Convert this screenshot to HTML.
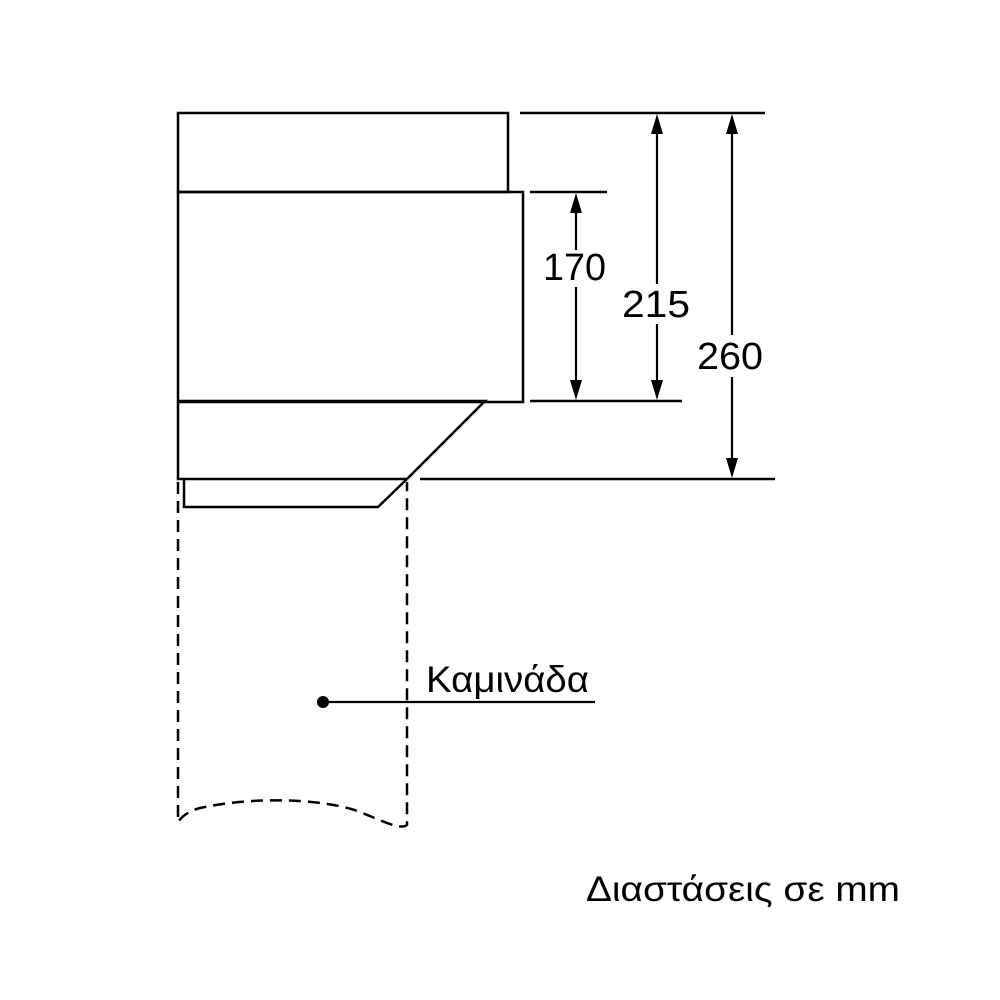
<!DOCTYPE html>
<html><head><meta charset="utf-8"><style>html,body{margin:0;padding:0;background:#fff;width:1000px;height:1000px;overflow:hidden}</style></head>
<body>
<svg width="1000" height="1000" viewBox="0 0 1000 1000" xmlns="http://www.w3.org/2000/svg">
<g fill="none" stroke="#000" stroke-width="2.5">
<rect x="178" y="113" width="330" height="79"/>
<path d="M178 192 H523 V402 H178 Z"/>
<path d="M178 402 V479 H407 M178 401 H485 L407 479"/>
<path d="M184 480 V507 H378 L407 479"/>
<path d="M420 479 H775"/>
<path d="M520 113 H765 M530 192 H607 M530 401 H682"/>
</g>
<g fill="none" stroke="#000" stroke-width="2.5" stroke-dasharray="12,7">
<path d="M178 482 V822 Q185 812 200 808 C260 795 330 800 360 812 C385 822 400 830 407 825 V482"/>
</g>
<g stroke="#000" stroke-width="2.2">
<line x1="576" y1="213" x2="576" y2="250"/><line x1="576" y1="287" x2="576" y2="381"/>
<line x1="657" y1="133" x2="657" y2="284"/><line x1="657" y1="324" x2="657" y2="381"/>
<line x1="732" y1="133" x2="732" y2="335"/><line x1="732" y1="377" x2="732" y2="459"/>
<line x1="323" y1="702" x2="595" y2="702"/>
</g>
<g fill="#000">
<polygon points="576,193 570,213 582,213"/><polygon points="576,400 570,380 582,380"/>
<polygon points="657,114 651,134 663,134"/><polygon points="657,400 651,380 663,380"/>
<polygon points="732,114 726,134 738,134"/><polygon points="732,478 726,458 738,458"/>
<circle cx="323" cy="702" r="6"/>
</g>
<g font-family="Liberation Sans, DejaVu Sans, sans-serif" fill="#000">
<text x="543" y="280" font-size="38" textLength="63" lengthAdjust="spacingAndGlyphs">170</text>
<text x="622" y="317" font-size="38" textLength="68" lengthAdjust="spacingAndGlyphs">215</text>
<text x="697" y="369" font-size="38" textLength="66" lengthAdjust="spacingAndGlyphs">260</text>
<text x="426" y="692" font-size="37" textLength="163" lengthAdjust="spacingAndGlyphs">Καμινάδα</text>
<text x="586" y="901" font-size="35" textLength="314" lengthAdjust="spacingAndGlyphs">Διαστάσεις σε mm</text>
</g>
</svg>
</body></html>
